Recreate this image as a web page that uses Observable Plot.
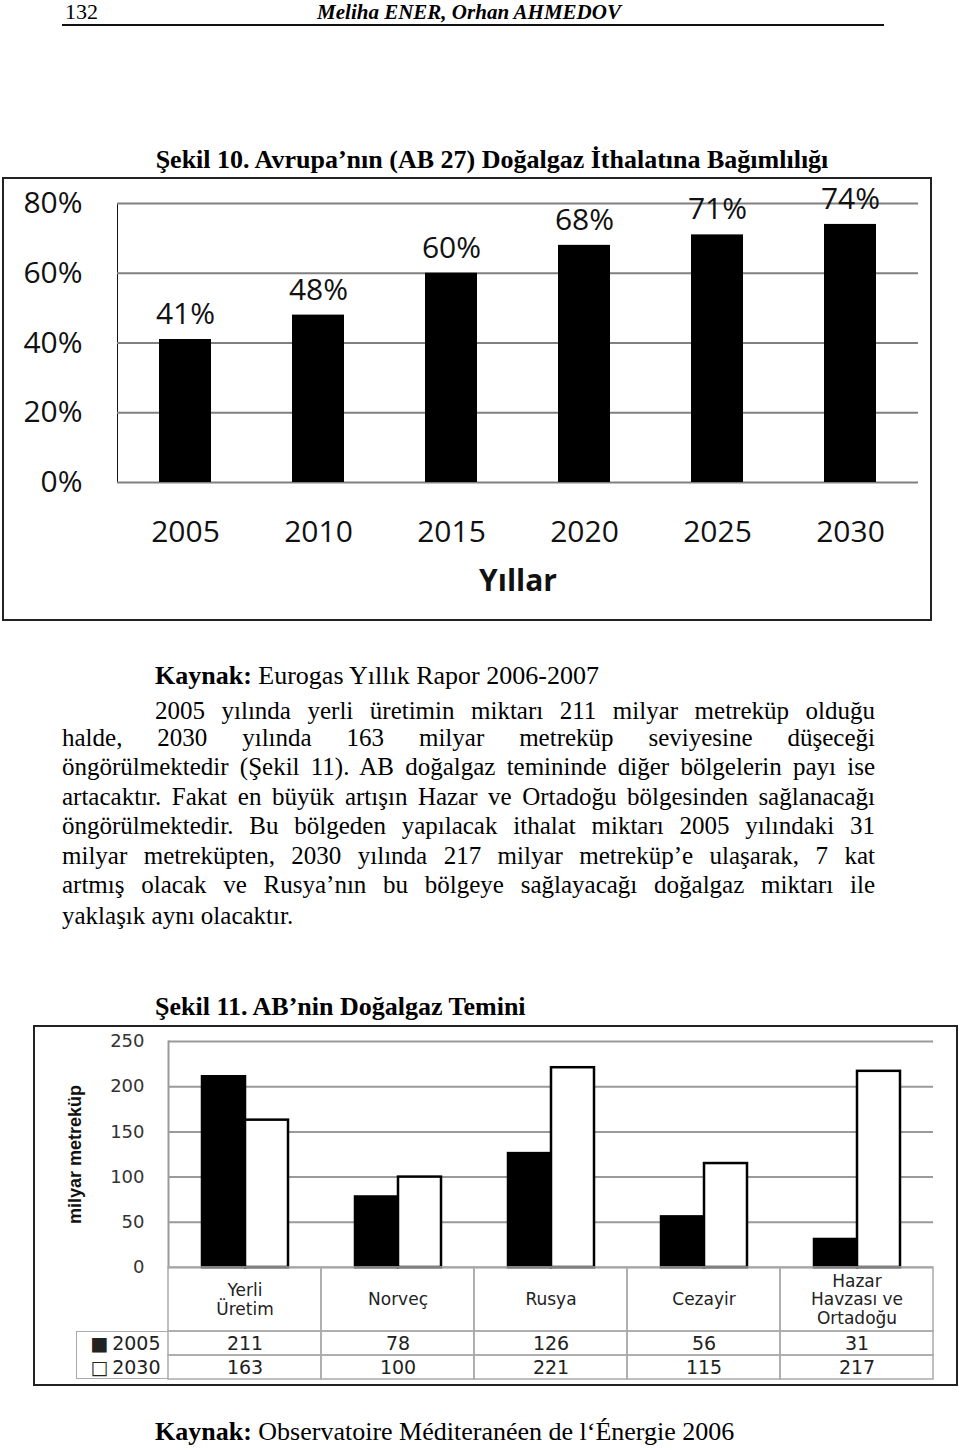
<!DOCTYPE html>
<html>
<head>
<meta charset="utf-8">
<script src="https://cdn.jsdelivr.net/npm/d3@7"></script>
<script src="https://cdn.jsdelivr.net/npm/@observablehq/plot@0.6"></script>
<style>
  html, body { margin: 0; padding: 0; background: #fff; }
  body { width: 960px; height: 1450px; position: relative; overflow: hidden;
         font-family: "Liberation Serif", "Times New Roman", serif; color: #000; }
  .abs { position: absolute; white-space: nowrap; line-height: 28px; }
  .ln { position: absolute; left: 62px; width: 813px; font-size: 25px; line-height: 28px;
        text-align: justify; text-align-last: justify; }
  .box { position: absolute; box-sizing: border-box; border: 2px solid #222; }
  #c1, #c2a, #c2b, #c2c { position: absolute; }
  svg { overflow: visible; }
  #c1 g[aria-label="frame"] line, #c1 g[aria-label="frame"] path { stroke: #808080; stroke-width: 2px; }
  #c2a g[aria-label="frame"] line, #c2a g[aria-label="frame"] path { stroke: #9a9a9a; stroke-width: 2px; }
  #c2a g[aria-label="y-axis label"] text {
    font-family: "Liberation Sans", Arial, sans-serif;
    font-weight: bold; font-size: 18px; fill: #111;
  }
</style>
</head>
<body>
<div class="abs" style="left:65px;top:-2px;font-size:22px;">132</div>
<div class="abs" style="left:0;width:938px;text-align:center;top:-2px;font-size:21px;font-weight:bold;font-style:italic;">Meliha ENER, Orhan AHMEDOV</div>
<div class="abs" style="left:62px;top:24px;width:822px;height:2px;background:#111;"></div>

<div class="abs" style="left:0;width:984px;text-align:center;top:146px;font-size:26px;font-weight:bold;">Şekil 10. Avrupa’nın (AB 27) Doğalgaz İthalatına Bağımlılığı</div>

<div class="box" style="left:2px;top:177px;width:930px;height:444px;"></div>
<div id="c1" style="left:2px;top:177px;"></div>

<div class="abs" style="left:155px;top:662px;font-size:26px;"><b>Kaynak:</b> Eurogas Yıllık Rapor 2006-2007</div>

<div class="ln" style="left:155px;width:720px;top:697px;">2005 yılında yerli üretimin miktarı 211 milyar metreküp olduğu</div>
<div class="ln" style="top:724px;">halde, 2030 yılında 163 milyar metreküp seviyesine düşeceği</div>
<div class="ln" style="top:753px;">öngörülmektedir (Şekil 11). AB doğalgaz temininde diğer bölgelerin payı ise</div>
<div class="ln" style="top:783px;">artacaktır. Fakat en büyük artışın Hazar ve Ortadoğu bölgesinden sağlanacağı</div>
<div class="ln" style="top:812px;">öngörülmektedir. Bu bölgeden yapılacak ithalat miktarı 2005 yılındaki 31</div>
<div class="ln" style="top:842px;">milyar metreküpten, 2030 yılında 217 milyar metreküp’e ulaşarak, 7 kat</div>
<div class="ln" style="top:871px;">artmış olacak ve Rusya’nın bu bölgeye sağlayacağı doğalgaz miktarı ile</div>
<div class="ln" style="top:902px;text-align:left;text-align-last:left;">yaklaşık aynı olacaktır.</div>

<div class="abs" style="left:155px;top:993px;font-size:26px;font-weight:bold;">Şekil 11. AB’nin Doğalgaz Temini</div>

<div class="box" style="left:33px;top:1025px;width:925px;height:361px;"></div>
<div id="c2a" style="left:33px;top:1025px;"></div>
<div id="c2b" style="left:33px;top:1267px;"></div>
<div id="c2c" style="left:33px;top:1331px;"></div>
<div style="position:absolute;box-sizing:border-box;left:76px;top:1331px;width:92px;height:48px;border:1.5px solid #aaa;border-right:none;"></div>

<div class="abs" style="left:155px;top:1418px;font-size:26px;"><b>Kaynak:</b> Observatoire Méditeranéen de l‘Énergie 2006</div>

<script>
// ---- Chart 1 data: Avrupa (AB 27) doğalgaz ithalatına bağımlılık ----
const years = ["2005", "2010", "2015", "2020", "2025", "2030"];
const importDependency = [0.41, 0.48, 0.60, 0.68, 0.71, 0.74];
const dependencyTicks = [0, 0.2, 0.4, 0.6, 0.8];

// ---- Chart 2 data: AB'nin doğalgaz temini (milyar metreküp) ----
const sources = ["Yerli\nÜretim", "Norveç", "Rusya", "Cezayir", "Hazar\nHavzası ve\nOrtadoğu"];
const seriesYears = ["2005", "2030"];
const supply2005 = [211, 78, 126, 56, 31];
const supply2030 = [163, 100, 221, 115, 217];
const supplyTicks = [0, 50, 100, 150, 200, 250];
const seriesKeys = ["■\u2009", "□\u2009"];

const pct = d3.format(".0%");
const dep = years.map((y, i) => ({year: y, value: importDependency[i]}));
const supply = sources.flatMap((s, i) => [
  {source: s, series: seriesYears[0], value: supply2005[i]},
  {source: s, series: seriesYears[1], value: supply2030[i]}
]);

// Chart 1
const chart1 = Plot.plot({
  width: 929, height: 443,
  marginLeft: 115, marginRight: 13, marginTop: 26, marginBottom: 138,
  style: {fontFamily: '"Open Sans", sans-serif', fontSize: "30px", color: "#111", background: "none"},
  x: {domain: years, paddingInner: 0.61, paddingOuter: 0.3, label: null, tickSize: 0, tickPadding: 38},
  y: {domain: [0, 0.8], ticks: dependencyTicks, tickFormat: pct, label: null, tickSize: 0, tickPadding: 35, line: true},
  marks: [
    Plot.gridY(dependencyTicks, {stroke: "#808080", strokeOpacity: 1, strokeWidth: 2}),
    Plot.barY(dep, {x: "year", y: "value", fill: "#000"}),
    Plot.text(dep, {x: "year", y: "value", text: d => pct(d.value), dy: -25}),
    Plot.text(["Yıllar"], {frameAnchor: "bottom", dy: 108, fontWeight: "bold"})
  ]
});
document.getElementById("c1").appendChild(chart1);

// Chart 2: bars
const chart2a = Plot.plot({
  width: 925, height: 243,
  marginLeft: 134, marginRight: 24, marginTop: 16, marginBottom: 1,
  style: {fontFamily: '"DejaVu Sans", Verdana, sans-serif', fontSize: "18px", color: "#333", background: "none"},
  fx: {domain: sources, padding: 0, axis: null, label: null},
  x: {domain: seriesYears, paddingInner: 0, paddingOuter: 0.77, axis: null, label: null},
  y: {domain: [0, 250], ticks: supplyTicks, tickSize: 0, tickPadding: 24,
      label: "milyar metreküp", labelArrow: "none", labelAnchor: "center", labelOffset: 100, line: true},
  color: {domain: seriesYears, range: ["#000", "#fff"]},
  marks: [
    Plot.gridY(supplyTicks, {stroke: "#9a9a9a", strokeOpacity: 1, strokeWidth: 2}),
    Plot.barY(supply, {fx: "source", x: "series", y: "value", fill: "series", stroke: "#000", strokeWidth: 2.5})
  ]
});
document.getElementById("c2a").appendChild(chart2a);

// Chart 2: category row of data table
const chart2b = Plot.plot({
  width: 925, height: 64,
  marginLeft: 134, marginRight: 24, marginTop: 0, marginBottom: 0,
  style: {fontFamily: '"DejaVu Sans", Verdana, sans-serif', fontSize: "17px", color: "#222", background: "none"},
  x: {domain: sources, padding: 0, axis: null},
  y: {domain: ["k"], padding: 0, axis: null},
  marks: [
    Plot.cell(sources, {x: d => d, y: () => "k", fill: "none", stroke: "#aaa", strokeWidth: 1.5}),
    Plot.text(sources, {x: d => d, y: () => "k", text: d => d, lineHeight: 1.08})
  ]
});
document.getElementById("c2b").appendChild(chart2b);

// Chart 2: values rows of data table
const chart2c = Plot.plot({
  width: 925, height: 48,
  marginLeft: 134, marginRight: 24, marginTop: 0, marginBottom: 0,
  style: {fontFamily: '"DejaVu Sans", Verdana, sans-serif', fontSize: "19px", color: "#222", background: "none"},
  x: {domain: sources, padding: 0, axis: null},
  y: {domain: seriesYears, padding: 0, label: null, tickSize: 0, tickPadding: 7,
      tickFormat: d => seriesKeys[seriesYears.indexOf(d)] + d},
  marks: [
    Plot.cell(supply, {x: "source", y: "series", fill: "none", stroke: "#aaa", strokeWidth: 1.5}),
    Plot.text(supply, {x: "source", y: "series", text: d => String(d.value)})
  ]
});
document.getElementById("c2c").appendChild(chart2c);
</script>
</body>
</html>
